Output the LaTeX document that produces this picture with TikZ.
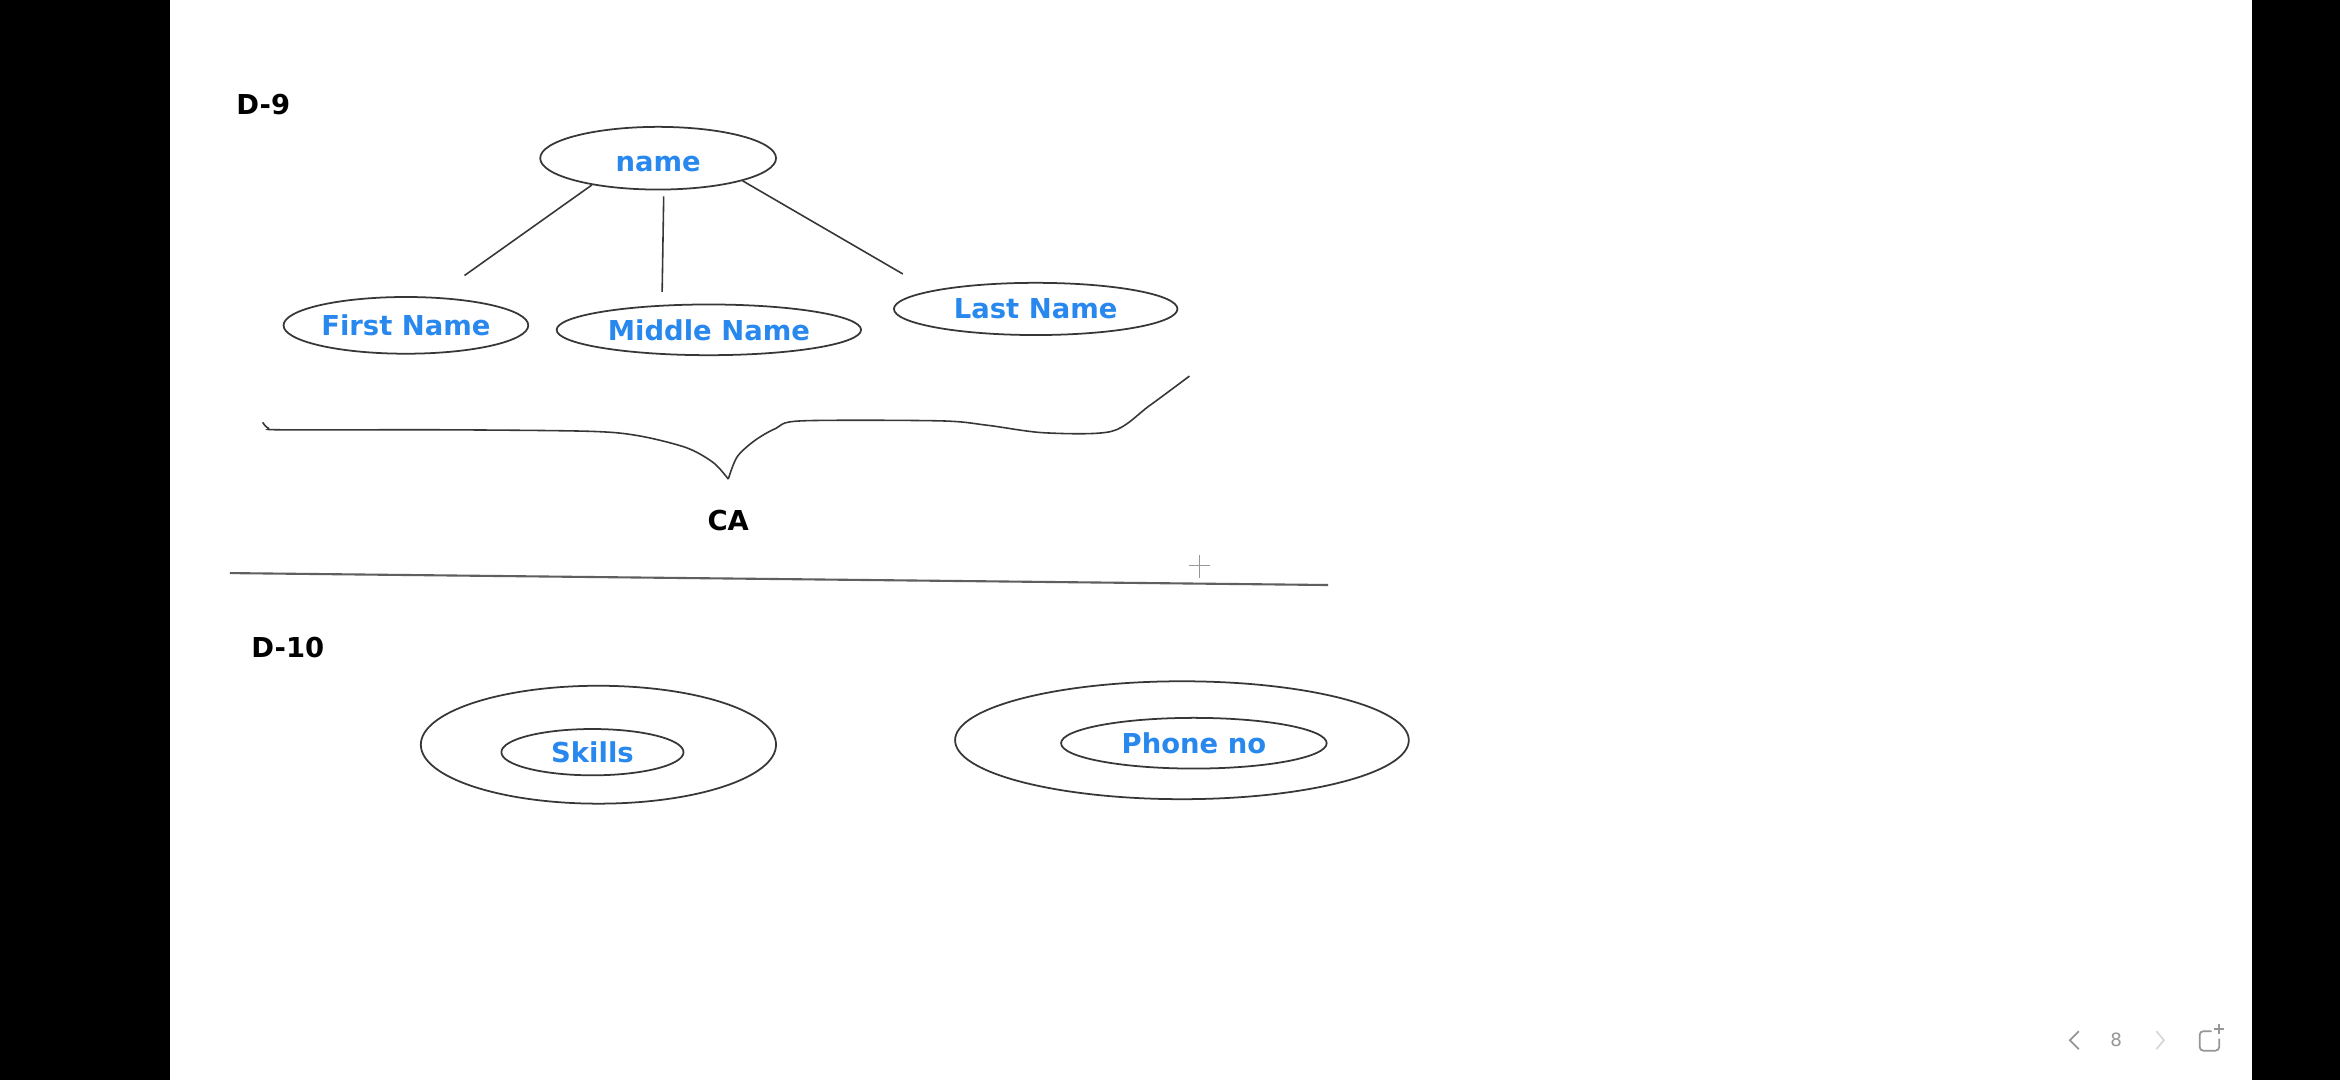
\documentclass[tikz,border=0pt]{standalone}
\usepackage{fontspec}
\setmainfont{DejaVu Sans}
\usepackage{tikz}
\usetikzlibrary{shapes.geometric}
\usepackage{xcolor}
\definecolor{attrBlue}{RGB}{40, 136, 238}
\definecolor{penGrey}{RGB}{55, 55, 55}
\definecolor{ruleGrey}{RGB}{95, 95, 95}
\definecolor{uiGrey}{RGB}{150, 150, 150}
\definecolor{uiPale}{RGB}{215, 215, 215}

\begin{document}
\begin{tikzpicture}
    [
        x=0.14923mm, y=-0.14923mm,
        attr/.style={
            draw=penGrey, ellipse, line width=0.5pt, inner sep=0pt,
            text=attrBlue, font=\fontsize{7.8pt}{9pt}\selectfont\bfseries
        },
        ring/.style={
            draw=penGrey, ellipse, line width=0.5pt, inner sep=0pt
        },
        title/.style={
            anchor=west, inner sep=0pt,
            font=\fontsize{7.8pt}{9pt}\selectfont\bfseries
        },
        pen/.style={draw=penGrey, line width=0.45pt}
    ]

\useasboundingbox (0,0) rectangle (1568,724);
\fill[white] (0,0) rectangle (1568,724);
\fill[black] (0,0) rectangle (114,724);
\fill[black] (1509,0) rectangle (1568,724);

% Nodes
\node (d-nine) [title] at (158,70) {D-9};

\node (name) [
        attr, minimum width=23.58mm, minimum height=6.27mm,
        text height=1.45ex,
    ] at (441,106) {name};

\node (first-name) [
        attr, minimum width=24.47mm, minimum height=5.67mm,
    ] at (272,218) {First Name};

\node (middle-name) [
        attr, minimum width=30.44mm, minimum height=5.07mm,
    ] at (475,221) {Middle Name};

\node (last-name) [
        attr, minimum width=28.35mm, minimum height=5.22mm,
    ] at (694,207) {Last Name};

\node (ca) [title, anchor=center] at (488,349) {CA};

\node (d-ten) [title] at (168,434) {D-10};

\node (skills-outer) [
        ring, minimum width=35.52mm, minimum height=11.79mm,
    ] at (401,499) {};

\node (skills) [
        attr, minimum width=18.21mm, minimum height=4.63mm,
    ] at (397,504) {Skills};

\node (phone-outer) [
        ring, minimum width=45.37mm, minimum height=11.79mm,
    ] at (792,496) {};

\node (phone) [
        attr, minimum width=26.56mm, minimum height=5.07mm,
    ] at (800,498) {Phone no};

% Lines
\draw[pen, shorten >=3.7mm] (name.202) -- (first-name.45);
\draw[pen, shorten <=0.6mm, shorten >=1.3mm] (name.280) -- (middle-name.152);
\draw[pen, shorten >=3.3mm] (name.-15) -- (last-name.170);

% brace under the attributes
\draw[pen] plot[smooth, tension=0.5] coordinates {
    (176,283) (180,287) (190,288) (300,288) (395,289) (428,292)
    (460,300) (478,310) (488,321)};
\draw[pen] plot[smooth, tension=0.5] coordinates {
    (488,321) (494,306) (506,295) (520,287) (537,282)
    (630,282) (662,285) (700,290) (745,289) (770,272) (797,252)};

% divider
\draw[draw=ruleGrey, line width=0.6pt] (154,384) -- (890,392);
\draw[draw=uiGrey, line width=0.3pt] (804,372) -- (804,387);
\draw[draw=uiGrey, line width=0.3pt] (797,379) -- (811,379);

% page controls
\draw[draw=uiGrey, line width=0.5pt] (1393,691) -- (1387,697) -- (1393,703);
\node (page) [text=uiGrey, inner sep=0pt, font=\fontsize{5.2pt}{6pt}\selectfont] at (1418,697) {8};
\draw[draw=uiPale, line width=0.5pt] (1445,691) -- (1450,697) -- (1445,703);
\draw[draw=uiGrey, line width=0.5pt, rounded corners=1pt]
    (1482,691) -- (1474,691) -- (1474,704) -- (1487,704) -- (1487,696);
\draw[draw=uiGrey, line width=0.5pt] (1487,686) -- (1487,693);
\draw[draw=uiGrey, line width=0.5pt] (1483.5,689.5) -- (1490.5,689.5);

\end{tikzpicture}
\end{document}
